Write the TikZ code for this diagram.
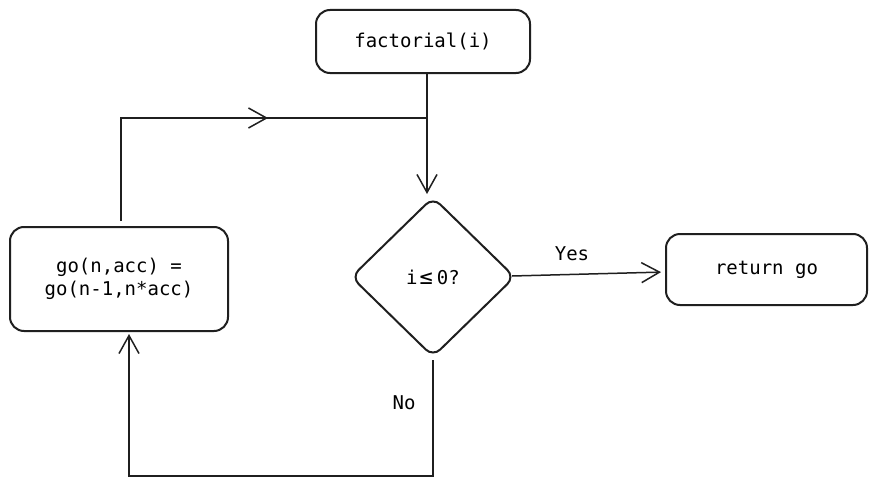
\documentclass[tikz,border=0pt]{standalone}
\usepackage{fontspec}
\setmonofont{DejaVu Sans Mono}
\usetikzlibrary{shapes.geometric,arrows.meta}
\tikzset{
  boxnode/.style={draw=black!88, line width=2pt, rounded corners=14pt, inner sep=0pt, align=center},
  decision/.style={diamond, draw=black!88, line width=2pt, rounded corners=10pt, inner sep=0pt, minimum width=164pt, minimum height=160pt},
  conn/.style={draw=black!88, line width=1.5pt},
  arr/.style={conn, -{Straight Barb[length=18pt,width=20pt,line width=1.5pt]}},
  lbl/.style={inner sep=0pt}
}
\begin{document}
\begin{tikzpicture}[x=1pt,y=-1pt, font=\ttfamily\fontsize{19}{23}\selectfont]
\fill[white] (0,0) rectangle (877,487);
\useasboundingbox (0,0) rectangle (877,487);

\node[boxnode, minimum width=214pt, minimum height=63pt] (fact) at (423,41.5) {factorial(i)};
\node[decision] (dia) at (433,277) {i\kern2pt{\fontsize{22}{22}\selectfont≤}\kern4pt0?};
\node[boxnode, minimum width=218pt, minimum height=104pt] (go) at (119,279) {go(n,acc) =\\go(n-1,n*acc)};
\node[boxnode, minimum width=201pt, minimum height=71pt] (ret) at (766.5,269.5) {return go};

\coordinate (j) at (427,118);
\coordinate (c1) at (121,118);
\coordinate (m) at (268,118);
\coordinate (b) at (129,476);

% factorial -> decision
\draw[arr, shorten >=2pt] (fact.south -| j) -- (j |- dia.north);
% loop back from go
\draw[conn, shorten <=5pt] ([xshift=2pt]go.north) |- (j);
\draw[arr] (c1) -- (m);
% yes
\draw[arr, shorten >=4pt] ([xshift=-4pt,yshift=1pt]dia.east) -- ([yshift=-2.5pt]ret.west);
\node[lbl] at (572,254) {Yes};
% no
\draw[arr, shorten <=2pt, shorten >=2pt] (dia.south) |- (b) -- (b |- go.south);
\node[lbl] at (404,403) {No};
\end{tikzpicture}
\end{document}
